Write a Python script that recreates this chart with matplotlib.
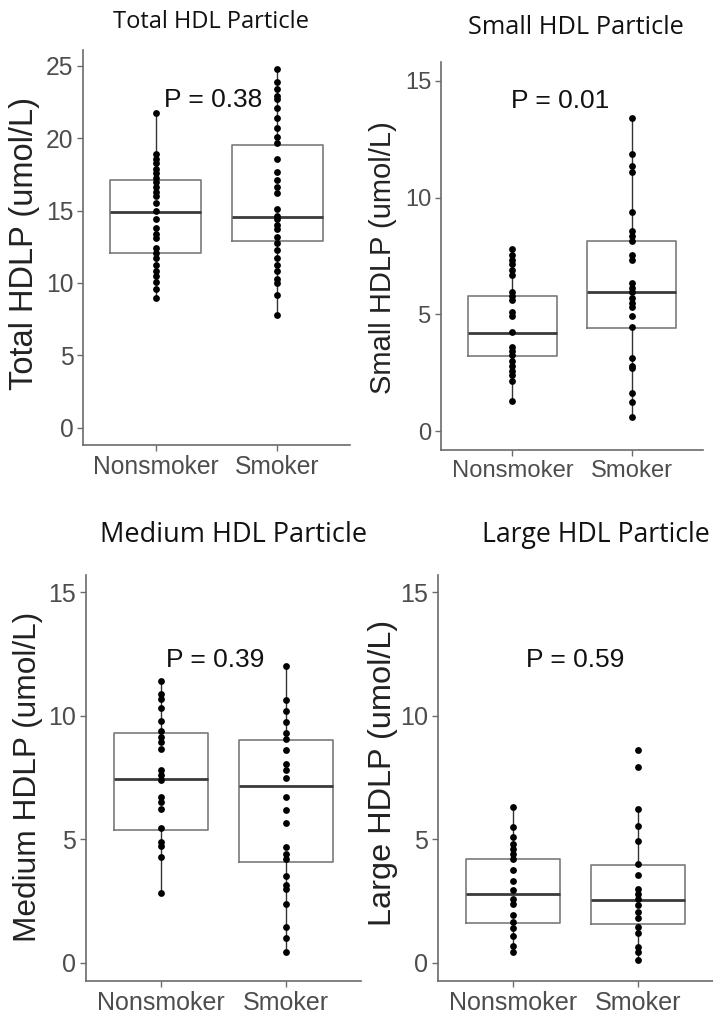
import matplotlib
matplotlib.use("Agg")
import matplotlib.pyplot as plt

categories = ["Nonsmoker", "Smoker"]

# ---- Total HDL particle ----
total_non = [21.75, 18.9, 18.6, 18.3, 17.9, 17.6, 17.25, 17.0, 16.6, 16.3, 16.0, 15.5, 15.0,
             14.4, 13.8, 13.4, 13.1, 12.4, 12.1, 11.7, 11.25, 10.8, 10.45, 10.1, 9.6, 8.95]
total_smk = [24.8, 23.9, 23.4, 22.9, 22.7, 22.1, 21.4, 20.7, 20.1, 19.7, 18.6, 17.7, 17.1,
             16.6, 16.2, 15.1, 14.6, 14.4, 14.0, 13.7, 13.2, 12.75, 12.3, 11.7, 11.25, 10.8,
             10.3, 10.0, 9.2, 7.8]
total_box = [(8.95, 12.1, 14.9, 17.1, 21.75), (7.8, 12.9, 14.55, 19.55, 24.8)]

# ---- Small HDL particle ----
small_non = [7.8, 7.55, 7.35, 7.15, 6.9, 6.7, 5.95, 5.8, 5.6, 5.1, 4.95, 4.25, 3.6, 3.45,
             3.25, 3.0, 2.8, 2.6, 2.4, 2.15, 1.3]
small_smk = [13.4, 11.85, 11.35, 11.1, 9.4, 8.55, 8.35, 8.15, 7.55, 7.35, 6.35, 6.15, 5.95,
             5.7, 5.5, 5.3, 4.95, 4.45, 3.15, 2.8, 2.7, 1.65, 1.25, 0.6]
small_box = [(1.3, 3.23, 4.2, 5.78, 7.8), (0.6, 4.4, 5.95, 8.15, 13.4)]

# ---- Medium HDL particle ----
medium_non = [11.4, 10.9, 10.7, 10.3, 9.8, 9.4, 9.15, 8.95, 8.65, 7.8, 7.6, 7.4, 6.7, 6.5,
              6.25, 5.45, 4.9, 4.75, 4.3, 2.85]
medium_smk = [12.0, 10.65, 10.2, 9.75, 9.3, 9.05, 8.6, 8.05, 7.8, 7.5, 6.7, 6.2, 5.65, 4.7,
              4.4, 4.2, 3.5, 3.15, 3.0, 2.4, 1.45, 1.0, 0.45]
medium_box = [(2.85, 5.4, 7.45, 9.3, 11.4), (0.45, 4.08, 7.18, 9.03, 12.0)]

# ---- Large HDL particle ----
large_non = [6.3, 5.5, 5.1, 4.8, 4.6, 4.4, 4.2, 3.75, 3.3, 2.95, 2.6, 2.4, 1.95, 1.65, 1.4,
             1.1, 0.7, 0.45]
large_smk = [8.6, 7.95, 6.25, 5.55, 4.95, 4.0, 3.55, 3.0, 2.8, 2.6, 2.35, 2.05, 1.8, 1.45,
             1.2, 0.65, 0.45, 0.1]
large_box = [(0.45, 1.6, 2.8, 4.2, 6.3), (0.1, 1.56, 2.55, 3.98, 6.25)]

titles = ["Total HDL Particle", "Small HDL Particle", "Medium HDL Particle", "Large HDL Particle"]
ylabels = ["Total HDLP (umol/L)", "Small HDLP (umol/L)", "Medium HDLP (umol/L)", "Large HDLP (umol/L)"]
pvalues = ["P = 0.38", "P = 0.01", "P = 0.39", "P = 0.59"]
yticks = [[0, 5, 10, 15, 20, 25], [0, 5, 10, 15], [0, 5, 10, 15], [0, 5, 10, 15]]

panels = [
    (total_non, total_smk, total_box),
    (small_non, small_smk, small_box),
    (medium_non, medium_smk, medium_box),
    (large_non, large_smk, large_box),
]

W, H = 713, 1017
fig = plt.figure(figsize=(W / 100, H / 100), dpi=100)
fig.patch.set_facecolor("white")

# axes rectangles in pixels: left, top, right, bottom
rects_px = [(83, 50, 350, 445), (441, 62, 703, 450), (86, 575, 361, 981), (438, 575, 713, 981)]
ylims = [(-1.2, 26.1), (-0.8, 15.8), (-0.73, 15.7), (-0.73, 15.7)]
ptext_pos = [(1.47, 22.65), (1.40, 14.15), (1.43, 12.27), (1.50, 12.27)]
title_px = [(211, 22), (576, 28), (234, 535), (596, 535)]
ylabel_px = [(25, 243), (383, 258), (28, 777), (383, 773)]
title_fs = [17.0, 18.3, 19.5, 19.2]
ylabel_fs = [23.5, 21.0, 22.8, 23.4]
tick_fs = [17.7, 17.1, 18.0, 18.1]

axis_col = "#6b6b6b"
tick_col = "#4d4d4d"

for i, (non, smk, box) in enumerate(panels):
    l, t, r, b = rects_px[i]
    ax = fig.add_axes([l / W, (H - b) / H, (r - l) / W, (b - t) / H])
    ax.set_xlim(0.4, 2.6)
    ax.set_ylim(*ylims[i])
    stats = []
    for (lo, q1, med, q3, hi) in box:
        stats.append(dict(whislo=lo, q1=q1, med=med, q3=q3, whishi=hi, fliers=[]))
    ax.bxp(stats, positions=[1, 2], widths=0.75, showcaps=False, showfliers=False,
           boxprops=dict(color="#7a7a7a", linewidth=1.2),
           whiskerprops=dict(color="#333333", linewidth=1.0),
           medianprops=dict(color="#3a3a3a", linewidth=2.0),
           manage_ticks=False, zorder=2)
    ax.scatter([1] * len(non), non, s=24, color="black", zorder=3, linewidths=0)
    ax.scatter([2] * len(smk), smk, s=24, color="black", zorder=3, linewidths=0)

    ax.set_xticks([1, 2])
    ax.set_xticklabels(categories, family="Liberation Sans", fontsize=tick_fs[i], color=tick_col)
    ax.set_yticks(yticks[i])
    ax.set_yticklabels([str(v) for v in yticks[i]], family="Liberation Sans",
                       fontsize=tick_fs[i], color=tick_col)
    ax.tick_params(axis="both", direction="out", length=4, width=1, color=axis_col, pad=3)
    for s in ["top", "right"]:
        ax.spines[s].set_visible(False)
    for s in ["left", "bottom"]:
        ax.spines[s].set_color(axis_col)
        ax.spines[s].set_linewidth(1.2)

    px, py = ptext_pos[i]
    ax.text(px, py, pvalues[i], family="Liberation Sans", fontsize=19, color="#111111",
            ha="center", va="center")

    tx, ty = title_px[i]
    fig.text(tx / W, 1 - ty / H, titles[i], family="Open Sans", fontsize=title_fs[i],
             color="#111111", ha="center", va="center")
    lx, ly = ylabel_px[i]
    fig.text(lx / W, 1 - ly / H, ylabels[i], family="Liberation Sans", fontsize=ylabel_fs[i],
             color="#222222", rotation=90, ha="center", va="center")

fig.savefig("out.png", dpi=100, facecolor="white")
